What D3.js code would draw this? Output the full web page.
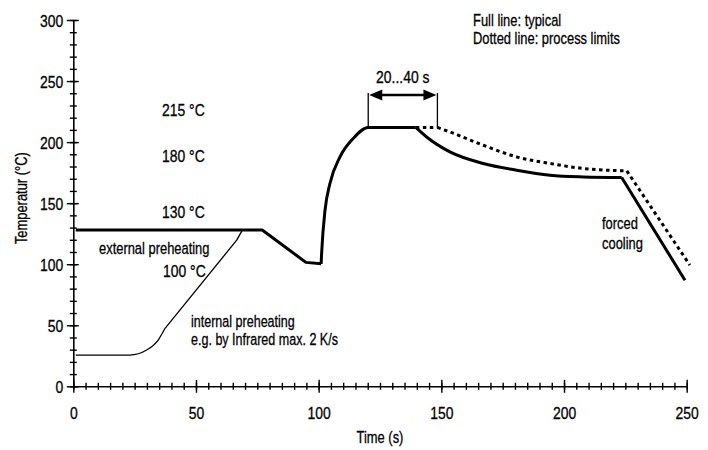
<!DOCTYPE html>
<html><head><meta charset="utf-8">
<script src="https://cdn.jsdelivr.net/npm/d3@7"></script>
<style>
body{margin:0;background:#fff}
svg text{font-family:"Liberation Sans","Arial",sans-serif;fill:#000;stroke:#000;stroke-width:0.3px}
</style></head><body>
<svg id="c" width="708" height="450"></svg>
<script>
// ---- data (time in s, temperature in °C) ----
const xTickValues = [0, 50, 100, 150, 200, 250];
const yTickValues = [0, 50, 100, 150, 200, 250, 300];
const typicalPreheat = [[1,128],[77,128],[94.8,101.5],[101,100.3]];
const typicalRise = [[101,100.3],[101.2,108.8],[102.6,144.3],[104.6,166.1],[108.7,187.9],[114.1,203],[120.2,212],[139.6,212]];
const typicalCool = [[139.6,212],[144,204.2],[153.5,192],[167.1,182.5],[180.7,177],[194.3,172.9],[207.9,171.5],[223.5,171]];
const typicalForced = [[223.5,171],[249.3,86.9]];
const limitPlateau = [[139.6,212],[148.4,212]];
const limitCool = [[148.4,212],[153.5,208.3],[167.1,197.4],[180.7,187.9],[194.3,182.5],[207.9,178.4],[225.6,176.4]];
const limitForced = [[225.6,176.4],[251.3,99.2]];
const internalCurve = [[1,25.6],[23.1,25.6],[29.9,29.7],[34.6,37.9],[37.4,47.5]];
const internalRamp = [[37.4,47.5],[66.6,119.7],[68.9,127.9]];
const peakWindow = [120.2, 148.4];
const tempLabels = ["215 °C", "180 °C", "130 °C", "100 °C"];

const svg = d3.select("#c");
const x = d3.scaleLinear().domain([0, 250]).range([73.3, 686.7]);
const y = d3.scaleLinear().domain([0, 300]).range([386.3, 20]);
const FS = 17, SXN = 0.82, SXT = 0.76;

function label(txt, px, py, sx, anchor, rot, fs) {
  return svg.append("text")
    .attr("transform", `translate(${px},${py})${rot ? " rotate(" + rot + ")" : ""} scale(${sx},1)`)
    .attr("text-anchor", anchor || "start").attr("font-size", fs || FS).text(txt);
}

// ---- axes ----
const gx = svg.append("g").attr("transform", `translate(0,${y(0)})`);
gx.call(d3.axisBottom(x).tickValues(d3.range(0, 251, 5)).tickSize(3.5).tickFormat("").tickSizeOuter(0));
gx.selectAll(".tick line").attr("y1", -3.5).attr("stroke-width", 1.4);
gx.select(".domain").attr("stroke-width", 1.6);
const gx2 = svg.append("g").attr("transform", `translate(0,${y(0)})`);
gx2.call(d3.axisBottom(x).tickValues(xTickValues).tickSize(6.5).tickSizeOuter(0));
gx2.selectAll(".tick line").attr("y1", -6.5).attr("stroke-width", 1.4);
gx2.select(".domain").remove();
gx2.selectAll(".tick text").attr("font-size", FS).attr("font-family", null)
  .attr("y", 32.5).attr("dy", null).attr("transform", `scale(${SXN},1)`);

const gy = svg.append("g").attr("transform", `translate(${x(0)},0)`);
gy.call(d3.axisLeft(y).tickValues(d3.range(0, 301, 10)).tickSize(3.5).tickFormat("").tickSizeOuter(0));
gy.selectAll(".tick line").attr("x1", 3.5).attr("stroke-width", 1.4);
gy.select(".domain").attr("stroke-width", 1.6);
const gy2 = svg.append("g").attr("transform", `translate(${x(0)},0)`);
gy2.call(d3.axisLeft(y).tickValues(yTickValues).tickSize(6.5).tickSizeOuter(0));
gy2.selectAll(".tick line").attr("x1", 5.5).attr("stroke-width", 1.4);
gy2.select(".domain").remove();
gy2.selectAll(".tick text").attr("font-size", FS).attr("font-family", null)
  .attr("x", -10 / SXN).attr("dy", "0.36em").attr("transform", `scale(${SXN},1)`);

label("Time (s)", (x(0) + x(250)) / 2, 443, SXT, "middle");
label("Temperatur (°C)", 27, (y(0) + y(300)) / 2 - 5, SXT, "middle", -90);

// ---- lines ----
const lin = d3.line().x(d => x(d[0])).y(d => y(d[1]));
const mono = d3.line().x(d => x(d[0])).y(d => y(d[1])).curve(d3.curveMonotoneX);
function draw(gen, data, w, dash) {
  svg.append("path").attr("d", gen(data)).attr("fill", "none").attr("stroke", "#000")
    .attr("stroke-width", w).attr("stroke-dasharray", dash || null).attr("stroke-linejoin", "round");
}
draw(mono, internalCurve, 1.3);
draw(lin, internalRamp, 1.3);
draw(lin, limitPlateau, 3, "3.5,3.5");
draw(mono, limitCool, 3, "3.5,3.5");
draw(lin, limitForced, 3, "3.5,3.5");
draw(lin, typicalPreheat, 3);
draw(mono, typicalRise, 3);
draw(mono, typicalCool, 3);
draw(lin, typicalForced, 3);

// ---- 20...40 s bracket ----
const ay = 95, yTop = y(212);
peakWindow.forEach(t => {
  svg.append("line").attr("x1", x(t)).attr("x2", x(t)).attr("y1", ay - 2).attr("y2", yTop)
    .attr("stroke", "#000").attr("stroke-width", 1.3);
});
const xl = x(peakWindow[0]), xr = x(peakWindow[1]);
svg.append("line").attr("x1", xl + 8).attr("x2", xr - 8).attr("y1", ay).attr("y2", ay)
  .attr("stroke", "#000").attr("stroke-width", 2.6);
svg.append("path").attr("d", `M${xl + 1},${ay} L${xl + 14},${ay - 5.5} L${xl + 14},${ay + 5.5} Z`).attr("fill", "#000");
svg.append("path").attr("d", `M${xr - 1},${ay} L${xr - 14},${ay - 5.5} L${xr - 14},${ay + 5.5} Z`).attr("fill", "#000");
label("20...40 s", (xl + xr) / 2, 83, SXN, "middle");

// ---- annotations ----
label(tempLabels[0], 162, 116, SXN);
label(tempLabels[1], 162, 162, SXN);
label(tempLabels[2], 162, 218, SXN);
label("external preheating", 99, 254, SXT);
label(tempLabels[3], 163, 277, SXN);
label("internal preheating", 191, 327, SXT, null, null, 16.5);
label("e.g. by Infrared max. 2 K/s", 191, 345, SXT, null, null, 16.5);
label("Full line: typical", 473, 26, SXT);
label("Dotted line: process limits", 473, 44, SXT);
label("forced", 602, 229, SXT);
label("cooling", 602, 249, SXT);
</script>
</body></html>
